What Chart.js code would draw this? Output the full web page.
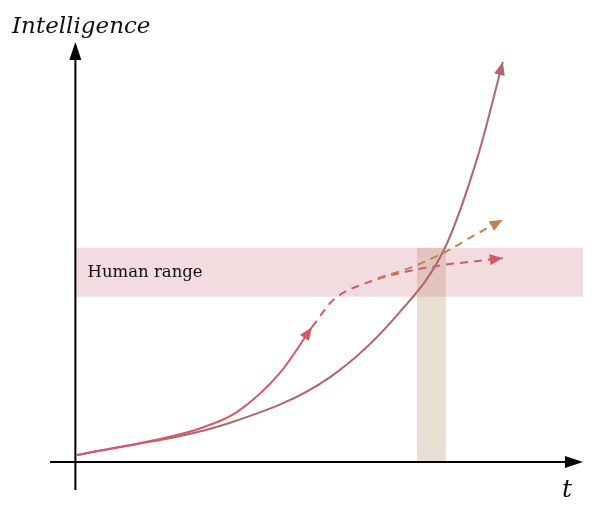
<!DOCTYPE html>
<html>
<head>
<meta charset="utf-8">
<script src="https://cdn.jsdelivr.net/npm/chart.js@4"></script>
<style>
html,body{margin:0;padding:0;background:#fff;}
#wrap{width:596px;height:513px;position:relative;}
</style>
</head>
<body>
<div id="wrap"><canvas id="c"></canvas></div>
<script>
// Axis ranges (abstract units: time t, intelligence)
const xRange = [-0.5, 10];
const yRange = [-0.6, 9];

// Bands
const humanRangeX = [0, 10];
const humanRangeY = [3.54, 4.59];
const crossingX = [6.73, 7.30];

// Exponential curve (mauve)
const expX = [0.03, 3.05, 5.02, 6.39, 7.28, 7.93, 8.42];
const expY = [0.15, 0.84, 1.82, 3.21, 4.59, 6.56, 8.57];

// Red solid curve
const redX = [0.03, 1.86, 2.51, 3.18, 4.03, 4.66];
const redY = [0.15, 0.54, 0.74, 1.07, 1.91, 2.89];

// Red dashed continuation
const redDashX = [4.66, 5.08, 5.74, 6.79, 8.42];
const redDashY = [2.89, 3.47, 3.84, 4.14, 4.37];

// Orange dashed branch
const orangeX = [5.96, 6.59, 7.32, 7.83, 8.42];
const orangeY = [3.94, 4.16, 4.52, 4.84, 5.19];

const labels = { y: 'Intelligence', x: 't', band: 'Human range' };

const pts = (xs, ys) => xs.map((x, i) => ({ x, y: ys[i] }));

const colMauve = '#b2646f';
const colRed = '#d8566a';
const colOrange = '#bf8350';

function arrowHead(ctx, tx, ty, ang, color, L, W) {
  ctx.save();
  ctx.fillStyle = color;
  ctx.translate(tx, ty);
  ctx.rotate(ang);
  ctx.beginPath();
  ctx.moveTo(0, 0);
  ctx.lineTo(-L, -W);
  ctx.lineTo(-L, W);
  ctx.closePath();
  ctx.fill();
  ctx.restore();
}

const arrowPlugin = {
  id: 'arrows',
  afterDatasetsDraw(chart) {
    const ctx = chart.ctx;
    chart.data.datasets.forEach((ds, i) => {
      if (!ds.arrow) return;
      const meta = chart.getDatasetMeta(i);
      const d = meta.data;
      const last = d[d.length - 1];
      let fx = last.cp1x, fy = last.cp1y;
      if (fx === undefined || (Math.abs(fx - last.x) < 0.5 && Math.abs(fy - last.y) < 0.5)) {
        fx = d[d.length - 2].x; fy = d[d.length - 2].y;
      }
      const ang = Math.atan2(last.y - fy, last.x - fx);
      arrowHead(ctx, last.x, last.y, ang, ds.borderColor, 13, 5.5);
    });
  },
  afterDraw(chart) {
    const ctx = chart.ctx;
    const xs = chart.scales.x, ys = chart.scales.y;
    const x0 = xs.getPixelForValue(0), y0 = ys.getPixelForValue(0);
    const xL = xs.getPixelForValue(xRange[0]), xR = xs.getPixelForValue(xRange[1]);
    const yB = ys.getPixelForValue(yRange[0]), yT = ys.getPixelForValue(yRange[1]);
    ctx.save();
    ctx.strokeStyle = '#000';
    ctx.lineWidth = 2;
    ctx.beginPath();
    ctx.moveTo(xL, y0); ctx.lineTo(xR - 8, y0);
    ctx.moveTo(x0, yB); ctx.lineTo(x0, yT + 8);
    ctx.stroke();
    arrowHead(ctx, xR, y0, 0, '#000', 18, 6);
    arrowHead(ctx, x0, yT, -Math.PI / 2, '#000', 18, 6);
    ctx.fillStyle = '#111';
    ctx.font = 'italic 23px "DejaVu Serif", "Liberation Serif", serif';
    ctx.textBaseline = 'alphabetic';
    ctx.textAlign = 'left';
    ctx.fillText(labels.y, 12, 33);
    ctx.font = 'italic 25px "DejaVu Serif", "Liberation Serif", serif';
    ctx.fillText(labels.x, 562, 497);
    ctx.font = '16.5px "DejaVu Serif", "Liberation Serif", serif';
    ctx.textBaseline = 'middle';
    ctx.fillText(labels.band, xs.getPixelForValue(0.24), ys.getPixelForValue((humanRangeY[0] + humanRangeY[1]) / 2));
    ctx.restore();
  }
};

const curve = { pointRadius: 0, fill: false, cubicInterpolationMode: 'monotone', borderWidth: 2, arrow: true };

new Chart(document.getElementById('c'), {
  type: 'line',
  data: {
    datasets: [
      {
        data: pts(crossingX, [humanRangeY[1], humanRangeY[1]]),
        borderWidth: 0, pointRadius: 0, order: 6,
        backgroundColor: 'rgb(232,223,210)',
        fill: 'origin', tension: 0
      },
      {
        data: pts(humanRangeX, [humanRangeY[1], humanRangeY[1]]),
        borderWidth: 0, pointRadius: 0, order: 5,
        backgroundColor: 'rgba(203,115,127,0.25)',
        fill: { target: { value: humanRangeY[0] } }, tension: 0
      },
      Object.assign({ data: pts(expX, expY), borderColor: colMauve, order: 4 }, curve),
      Object.assign({ data: pts(redX, redY), borderColor: colRed, order: 3 }, curve),
      Object.assign({ data: pts(redDashX, redDashY), borderColor: colRed, borderDash: [8, 6], order: 2 }, curve),
      Object.assign({ data: pts(orangeX, orangeY), borderColor: colOrange, borderDash: [8, 6], order: 1 }, curve)
    ]
  },
  options: {
    responsive: true,
    maintainAspectRatio: false,
    animation: false,
    layout: { padding: { left: 50, right: 13, top: 42, bottom: 23 } },
    plugins: { legend: { display: false }, tooltip: { enabled: false }, filler: { propagate: false } },
    scales: {
      x: { type: 'linear', min: xRange[0], max: xRange[1], display: false },
      y: { type: 'linear', min: yRange[0], max: yRange[1], display: false }
    }
  },
  plugins: [arrowPlugin]
});
</script>
</body>
</html>
